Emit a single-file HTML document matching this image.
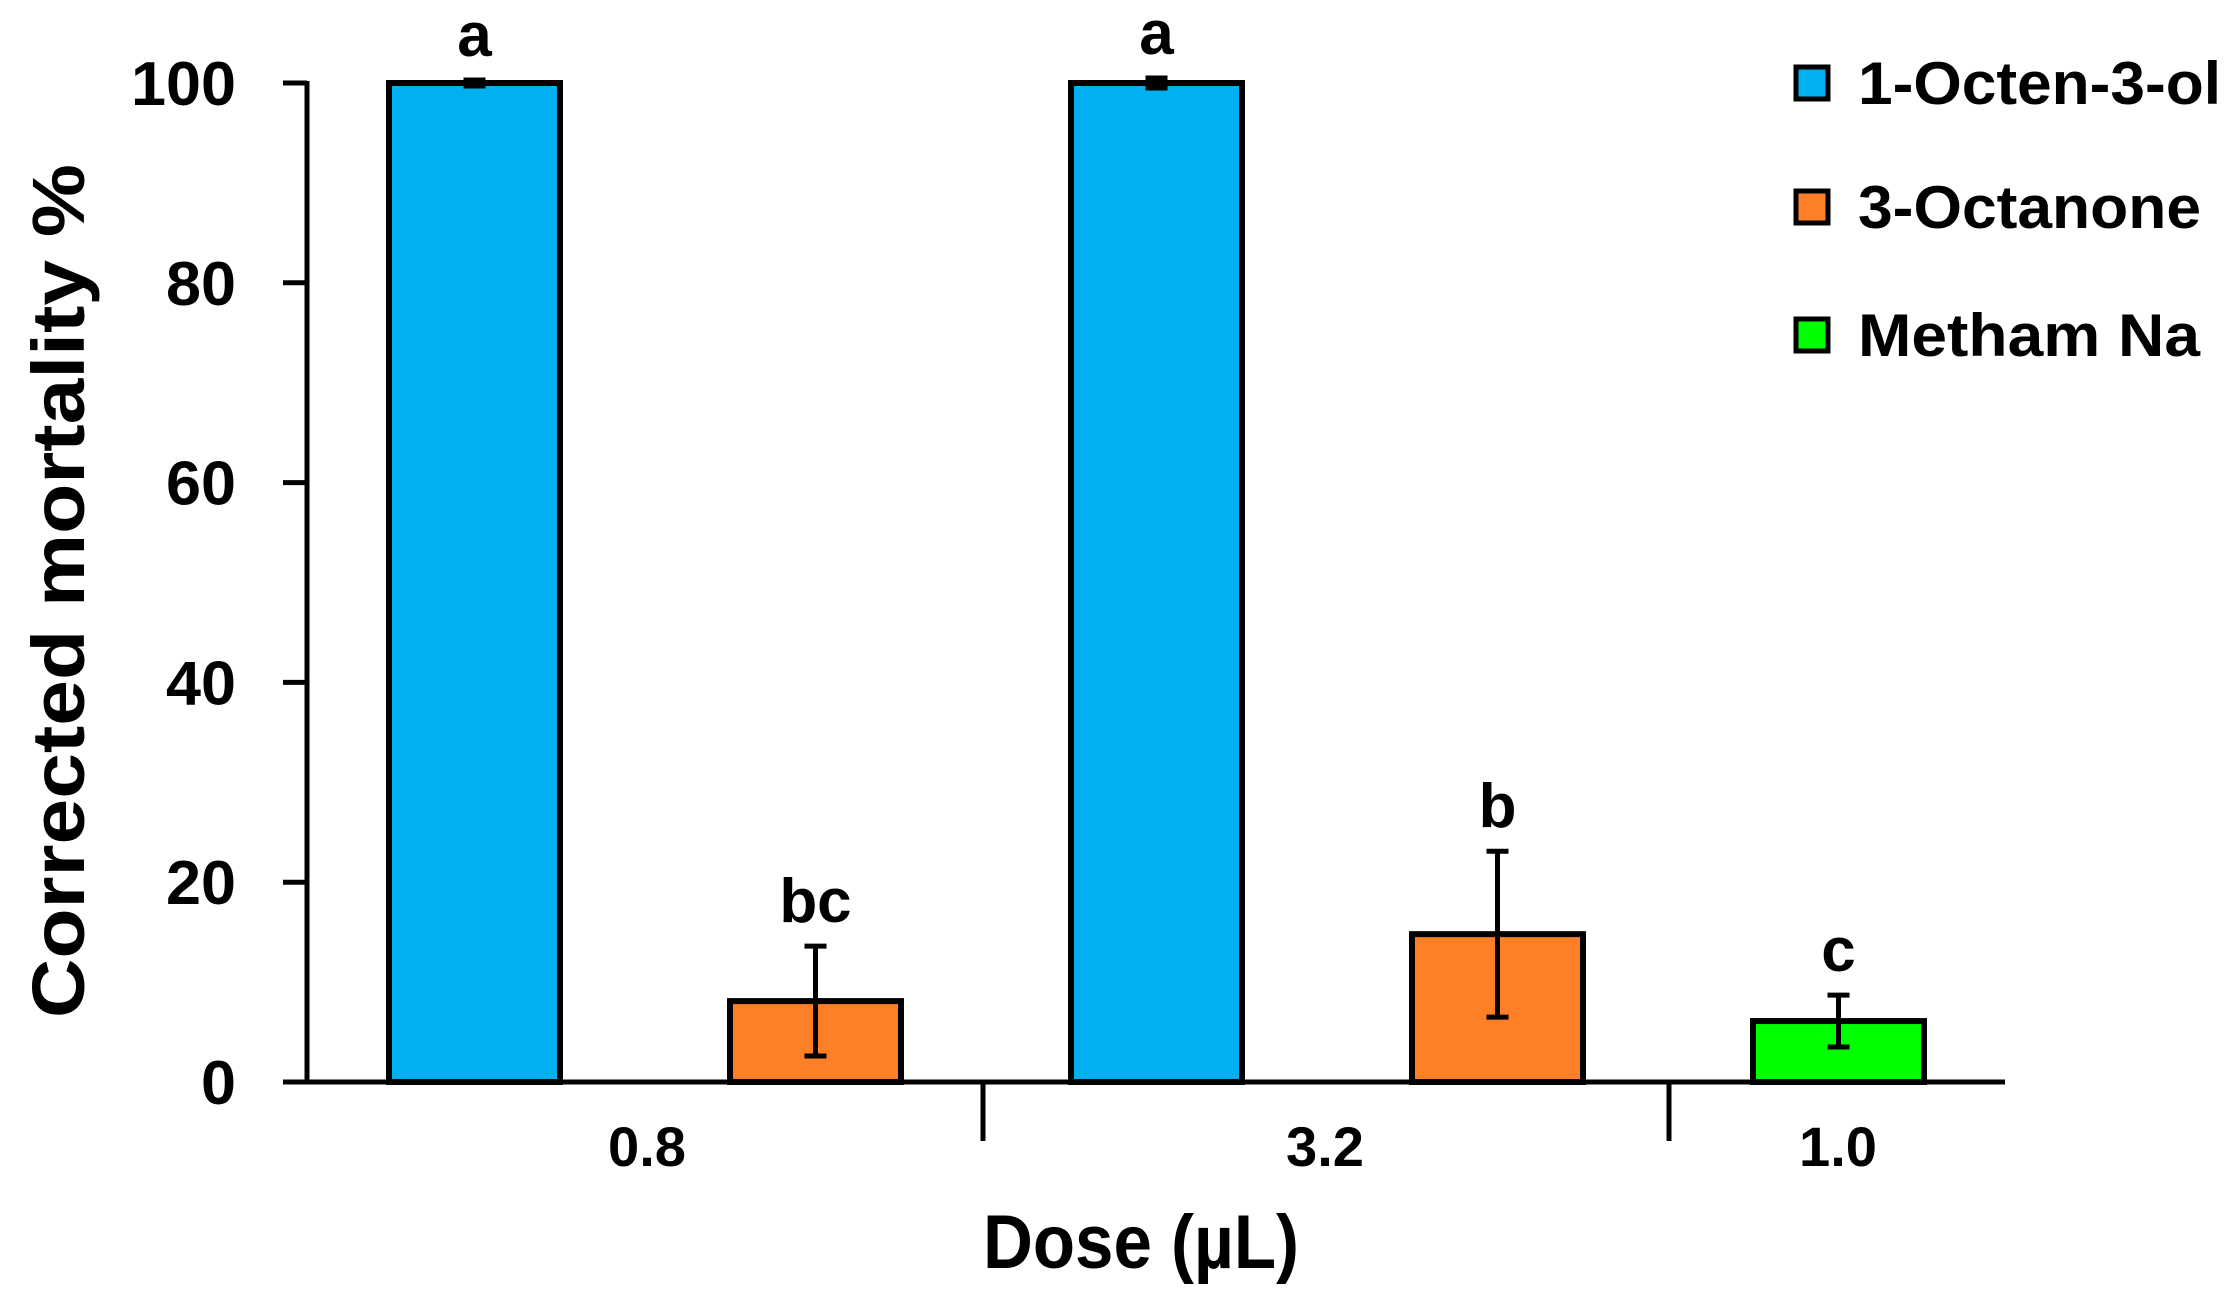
<!DOCTYPE html>
<html><head><meta charset="utf-8"><style>
html,body{margin:0;padding:0;background:#fff;}
svg{display:block;font-family:"Liberation Sans",sans-serif;font-weight:bold;}
</style></head><body>
<svg id="chart" width="2233" height="1297" viewBox="0 0 2233 1297" xmlns="http://www.w3.org/2000/svg">
<g id="axes"></g><g id="bars"></g><g id="legend"></g>
</svg>
<script>
const groups = ["0.8", "3.2", "1.0"];
const barGroup = [0, 0, 1, 1, 2];
const barSeries = [0, 1, 0, 1, 2];
const barValues = [100, 8.1, 100, 14.8, 6.1];
const barErrors = [0.3, 5.5, 0.5, 8.3, 2.6];
const barLetters = ["a", "bc", "a", "b", "c"];
const seriesNames = ["1-Octen-3-ol", "3-Octanone", "Metham Na"];
const seriesColors = ["#00B0F0", "#FF7F27", "#00FF00"];
const yTicks = [0, 20, 40, 60, 80, 100];

const NS = "http://www.w3.org/2000/svg";
const X0 = 307, X1 = 2005, Y0 = 1082, Y100 = 83;
const y = v => Y0 - (v / 100) * (Y0 - Y100);
const barX = i => 389 + i * 341;
const BW = 171;
const divX = [983, 1669];
const groupCenter = [647, 1325, 1838];
const legLen = [363, 343, 342];

function mk(tag, attrs, parent, text) {
  const e = document.createElementNS(NS, tag);
  for (const k in attrs) e.setAttribute(k, attrs[k]);
  if (text !== undefined) e.textContent = text;
  parent.appendChild(e);
  return e;
}
const axes = document.getElementById("axes");
const bars = document.getElementById("bars");
const legend = document.getElementById("legend");

let ya = mk("line", {x1: X0, y1: Y100 - 2, x2: X0, y2: Y0 + 2, stroke: "#000", "stroke-width": 5}, axes);


yTicks.forEach(t => {
  const tk = mk("line", {x1: 283, y1: y(t), x2: X0, y2: y(t), stroke: "#000", "stroke-width": 5}, axes);
  
  
  const s = String(t);
  const lb = mk("text", {x: 236, y: y(t) + 22, "text-anchor": "end", "font-size": 62, textLength: s.length * 35, lengthAdjust: "spacingAndGlyphs"}, axes, s);
  
  
});
let yt = mk("text", {x: 0, y: 0, "text-anchor": "middle", "font-size": 74, transform: "translate(84,591) rotate(-90)", textLength: 854, lengthAdjust: "spacingAndGlyphs"}, axes, "Corrected mortality %");



barValues.forEach((v, i) => {
  const x = barX(i);
  const r = mk("rect", {x: x, y: y(v), width: BW, height: Y0 - y(v), fill: seriesColors[barSeries[i]], stroke: "#000", "stroke-width": 6}, bars);
  
  
  const cx = x + BW / 2, e = barErrors[i];
  const eg = mk("g", {stroke: "#000", "stroke-width": 5}, bars);
  
  
  mk("line", {x1: cx, y1: y(v + e), x2: cx, y2: y(v - e)}, eg);
  mk("line", {x1: cx - 11, y1: y(v + e), x2: cx + 11, y2: y(v + e)}, eg);
  mk("line", {x1: cx - 11, y1: y(v - e), x2: cx + 11, y2: y(v - e)}, eg);
  const lt = mk("text", {x: cx, y: y(v + e) - 24, "text-anchor": "middle", "font-size": 62}, bars, barLetters[i]);
  
  
});

let xa = mk("line", {x1: 283, y1: Y0, x2: X1, y2: Y0, stroke: "#000", "stroke-width": 5}, axes);


divX.forEach(dx => {
  const d = mk("line", {x1: dx, y1: Y0, x2: dx, y2: 1141, stroke: "#000", "stroke-width": 5}, axes);
  
  
});
groups.forEach((g, i) => {
  const t = mk("text", {x: groupCenter[i], y: 1166, "text-anchor": "middle", "font-size": 56, textLength: 78, lengthAdjust: "spacingAndGlyphs"}, axes, g);
  
  
});
let xt = mk("text", {x: 1141, y: 1268, "text-anchor": "middle", "font-size": 76, textLength: 316, lengthAdjust: "spacingAndGlyphs"}, axes, "Dose (µL)");



const legY = [83, 207, 335];
seriesNames.forEach((n, i) => {
  const g = mk("g", {}, legend);
  
  
  mk("rect", {x: 1796, y: legY[i] - 16, width: 32, height: 32, fill: seriesColors[i], stroke: "#000", "stroke-width": 5}, g);
  mk("text", {x: 1858, y: legY[i] + 21, "font-size": 60, textLength: legLen[i], lengthAdjust: "spacingAndGlyphs"}, g, n);
});
</script>
</body></html>
